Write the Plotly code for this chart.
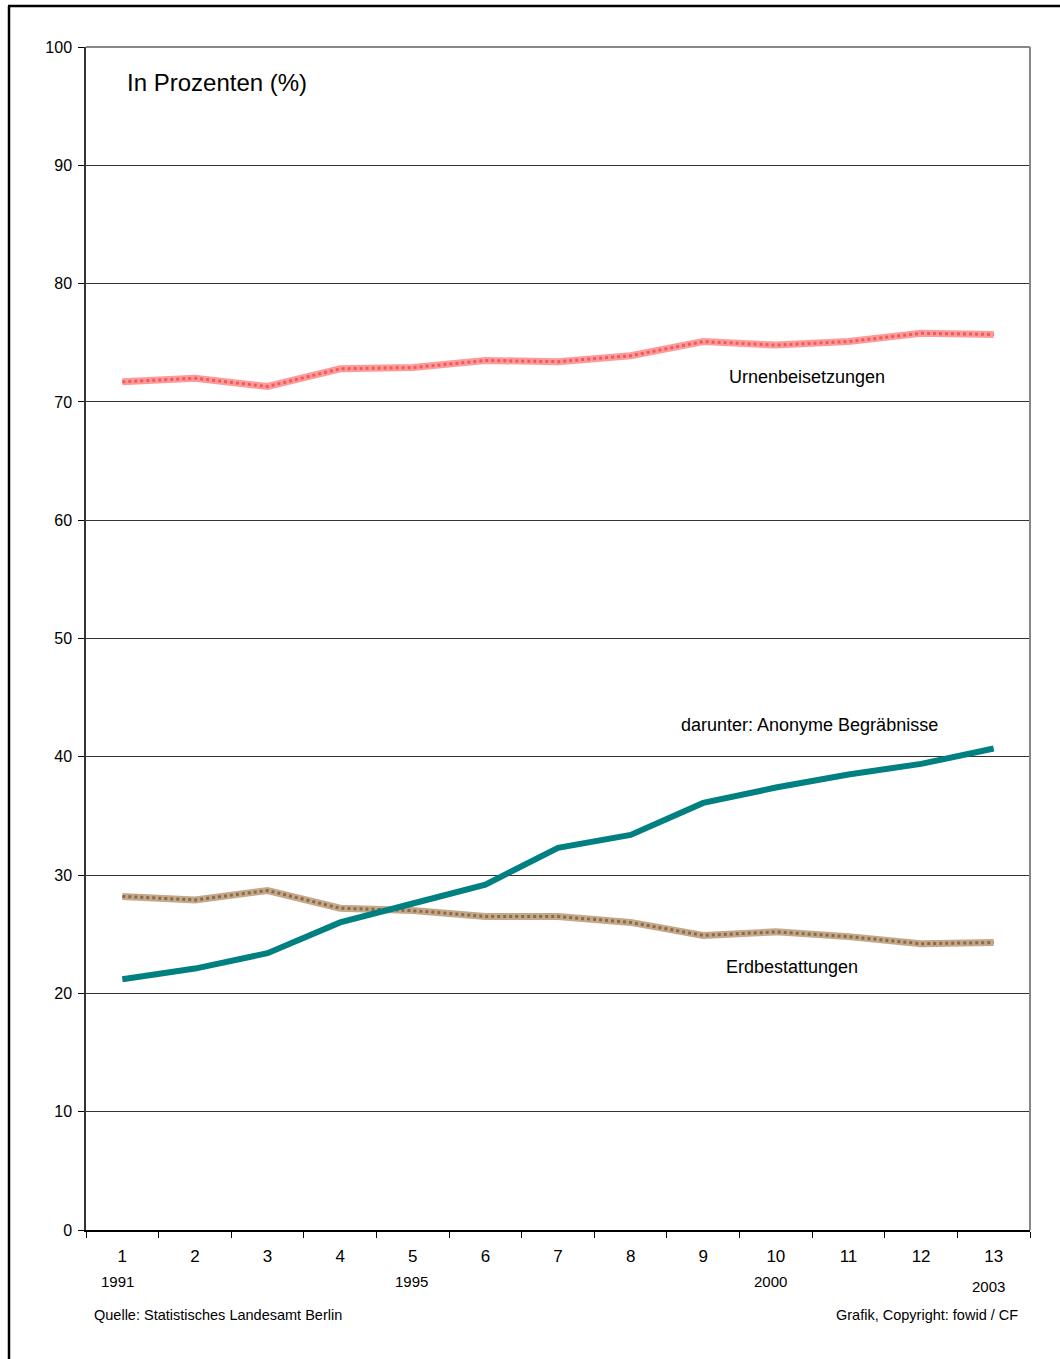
import plotly.graph_objects as go

categories = [str(i) for i in range(1, 14)]
urnen = [71.7, 72.0, 71.3, 72.8, 72.9, 73.5, 73.4, 73.9, 75.1, 74.8, 75.1, 75.8, 75.7]
erd = [28.2, 27.9, 28.7, 27.2, 27.0, 26.5, 26.5, 26.0, 24.9, 25.2, 24.8, 24.2, 24.3]
anonym = [21.2, 22.1, 23.4, 26.0, 27.6, 29.2, 32.3, 33.4, 36.1, 37.4, 38.5, 39.4, 40.7]
y_ticks = list(range(0, 101, 10))

W, H = 1060, 1359
L, R, T, B = 86, 30, 47, 129
PW, PH = W - L - R, H - T - B

def px(x):
    return (x - L) / PW

def py(y):
    return (H - B - y) / PH

NARROW = "Liberation Sans Narrow, Arial Narrow, Arial, sans-serif"
SANS = "Liberation Sans, Arial, sans-serif"

fig = go.Figure()
# Urnen: hatched pink
fig.add_trace(go.Scatter(x=categories, y=urnen, mode="lines",
                         line=dict(color="#ff9a9a", width=7), hoverinfo="skip", showlegend=False))
fig.add_trace(go.Scatter(x=categories, y=urnen, mode="lines",
                         line=dict(color="#f05a5a", width=3, dash="dot"), hoverinfo="skip", showlegend=False))
# Erd: hatched brown
fig.add_trace(go.Scatter(x=categories, y=erd, mode="lines",
                         line=dict(color="#c4a88a", width=7), hoverinfo="skip", showlegend=False))
fig.add_trace(go.Scatter(x=categories, y=erd, mode="lines",
                         line=dict(color="#8a6a4a", width=3, dash="dot"), hoverinfo="skip", showlegend=False))
# Anonym: teal
fig.add_trace(go.Scatter(x=categories, y=anonym, mode="lines",
                         line=dict(color="#008080", width=6), hoverinfo="skip", showlegend=False))

annotations = [
    dict(text="In Prozenten (%)", x=px(125), y=py(82), xanchor="left", yanchor="middle",
         font=dict(family=SANS, size=24, color="black")),
    dict(text="Urnenbeisetzungen", x=px(727), y=py(377), xanchor="left", yanchor="middle",
         font=dict(family=NARROW, size=18, color="black")),
    dict(text="darunter: Anonyme Begräbnisse", x=px(679), y=py(725), xanchor="left", yanchor="middle",
         font=dict(family=NARROW, size=18, color="black")),
    dict(text="Erdbestattungen", x=px(724), y=py(967), xanchor="left", yanchor="middle",
         font=dict(family=NARROW, size=18, color="black")),
    dict(text="1991", x=px(117), y=py(1281), xanchor="center", yanchor="middle",
         font=dict(family=NARROW, size=15, color="black")),
    dict(text="1995", x=px(411), y=py(1281), xanchor="center", yanchor="middle",
         font=dict(family=NARROW, size=15, color="black")),
    dict(text="2000", x=px(770), y=py(1281), xanchor="center", yanchor="middle",
         font=dict(family=NARROW, size=15, color="black")),
    dict(text="2003", x=px(988), y=py(1286), xanchor="center", yanchor="middle",
         font=dict(family=NARROW, size=15, color="black")),
    dict(text="Quelle: Statistisches Landesamt Berlin", x=px(92), y=py(1315), xanchor="left", yanchor="middle",
         font=dict(family=NARROW, size=14.5, color="black")),
    dict(text="Grafik, Copyright: fowid / CF", x=px(1020), y=py(1315), xanchor="right", yanchor="middle",
         font=dict(family=NARROW, size=14.5, color="black")),
]
for a in annotations:
    a.update(xref="paper", yref="paper", showarrow=False)

shapes = [
    # plot area top & right borders (gray)
    dict(type="line", xref="paper", yref="paper", x0=0, x1=1, y0=1, y1=1,
         line=dict(color="#888888", width=2)),
    dict(type="line", xref="paper", yref="paper", x0=1, x1=1, y0=0, y1=1,
         line=dict(color="#888888", width=2)),
    # outer frame
    dict(type="line", xref="paper", yref="paper", x0=px(9), x1=px(9), y0=py(H), y1=py(6),
         line=dict(color="black", width=2.5)),
    dict(type="line", xref="paper", yref="paper", x0=px(8), x1=px(W), y0=py(6), y1=py(6),
         line=dict(color="black", width=2.5)),
]

fig.update_layout(
    width=W, height=H,
    margin=dict(l=L, r=R, t=T, b=B),
    paper_bgcolor="white", plot_bgcolor="white",
    annotations=annotations, shapes=shapes,
    xaxis=dict(type="category", range=[-0.5, len(categories) - 0.5],
               tickson="boundaries", ticks="outside", ticklen=6,
               tickcolor="black", showline=True, linecolor="black", linewidth=1.5,
               showgrid=False, zeroline=False,
               tickfont=dict(family=SANS, size=17, color="black"), ticklabelstandoff=10),
    yaxis=dict(range=[0, 100], tickvals=y_ticks, ticks="outside", ticklen=6,
               tickcolor="black", showline=True, linecolor="#333333", linewidth=1.5,
               showgrid=True, gridcolor="#333333", gridwidth=1, zeroline=False,
               tickfont=dict(family=SANS, size=16, color="black"), ticklabelstandoff=3),
)

fig.write_html("out.html")
